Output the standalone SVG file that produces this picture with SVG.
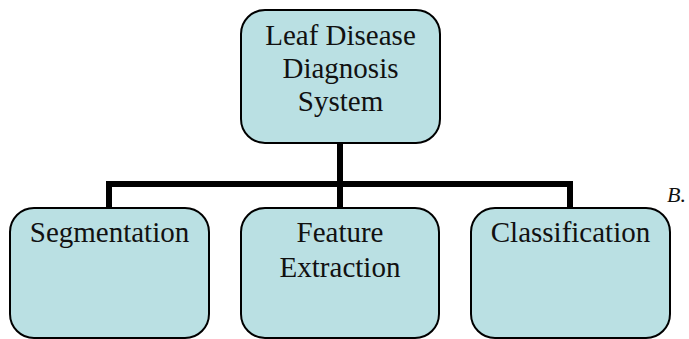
<svg xmlns="http://www.w3.org/2000/svg" width="689" height="339" viewBox="0 0 689 339">
<style>
.box{fill:#bae0e3;stroke:#000;stroke-width:2}
.lbl{font-family:"Liberation Serif","Times New Roman",serif;font-size:29px;fill:#111;text-anchor:middle}
.conn{fill:none;stroke:#000;stroke-width:6}
</style>
<rect width="689" height="339" fill="#fff"/>
<g id="connectors">
<path class="conn" d="M340,143 V208 M109,208 V184 H570 V208"/>
</g>
<g id="root">
<rect class="box" x="241" y="10" width="199" height="133" rx="24"/>
<text class="lbl" x="340.5" y="45">Leaf Disease</text>
<text class="lbl" x="340.5" y="78">Diagnosis</text>
<text class="lbl" x="340.5" y="111">System</text>
</g>
<g id="segmentation">
<rect class="box" x="10" y="208" width="199" height="130" rx="24"/>
<text class="lbl" x="109.5" y="242">Segmentation</text>
</g>
<g id="feature-extraction">
<rect class="box" x="241" y="208" width="198" height="130" rx="24"/>
<text class="lbl" x="340" y="242">Feature</text>
<text class="lbl" x="340" y="277">Extraction</text>
</g>
<g id="classification">
<rect class="box" x="471" y="208" width="199" height="130" rx="24"/>
<text class="lbl" x="570.5" y="242">Classification</text>
</g>
<text x="667" y="202" font-family="Liberation Serif, serif" font-style="italic" font-size="22" fill="#111">B.</text>
</svg>
